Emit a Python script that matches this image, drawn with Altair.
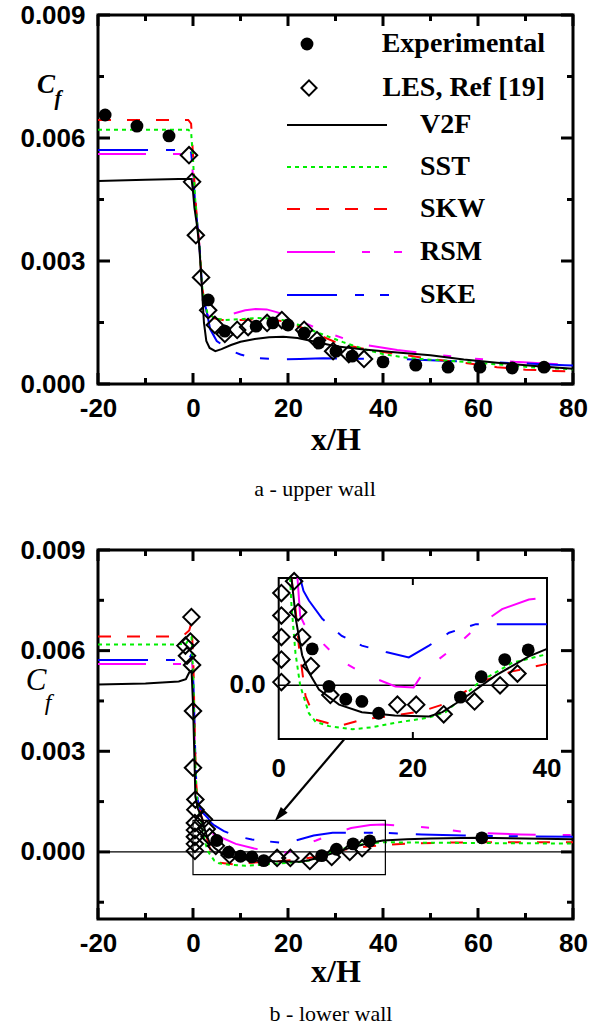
import altair as alt
import pandas as pd

# ---------------- axis ticks / labels ----------------
X_MAJOR = [-20, 0, 20, 40, 60, 80]
X_MINOR = [-10, 10, 30, 50, 70]
Y_MAJOR = [0.0, 0.003, 0.006, 0.009]
Y_MINOR_TOP = [0.0015, 0.0045, 0.0075]
Y_MINOR_BOT = [-0.0015, 0.0015, 0.0045, 0.0075]
INSET_X_TICKS = [0, 20, 40]
INSET_X_LABELS = ["0", "20", "40"]
INSET_MID_TICK = [20]
INSET_Y_LABEL = ["0.0"]

# ---------------- (a) upper wall, Cf in 1e-3 ----------------
A_EXP_X = [-18.5, -11.8, -5.05, 3.2, 6.7, 13.3, 16.8, 20.0, 23.4, 26.5, 30.1, 33.5, 40.0, 46.9, 53.7, 60.4, 67.2, 73.9]
A_EXP_CF = [6.56, 6.29, 6.05, 2.05, 1.29, 1.41, 1.49, 1.44, 1.24, 1.0, 0.8, 0.68, 0.54, 0.46, 0.41, 0.41, 0.39, 0.41]
A_LES_X = [-0.84, -0.2, 0.6, 1.7, 3.2, 4.6, 6.7, 9.3, 11.6, 15.6, 18.7, 23.4, 26.1, 29.5, 32.8, 36.0]
A_LES_CF = [5.58, 4.93, 3.63, 2.6, 1.8, 1.44, 1.22, 1.32, 1.39, 1.49, 1.56, 1.32, 1.07, 0.8, 0.73, 0.61]

A_V2F_X = [-20, -10, -3, -0.3, 0.0, 0.3, 0.8, 1.3, 1.8, 2.3, 2.8, 3.5, 4.7, 6, 8, 10, 13, 16, 19, 22, 25, 30, 36, 43, 50, 57, 64, 72, 80]
A_V2F_CF = [4.95, 4.98, 5.0, 5.0, 4.7, 4.3, 3.9, 3.4, 2.5, 1.5, 1.05, 0.88, 0.8, 0.85, 0.95, 1.03, 1.1, 1.14, 1.15, 1.12, 1.05, 0.92, 0.84, 0.77, 0.7, 0.6, 0.52, 0.44, 0.37]
A_SST_X = [-20, -5, -1, -0.4, 0, 0.4, 0.9, 1.4, 1.9, 2.4, 3.0, 4.5, 6.8, 10, 13.2, 16, 18.9, 22, 25.9, 31.6, 36, 40, 45, 50, 57, 64, 71, 80]
A_SST_CF = [6.2, 6.2, 6.2, 6.15, 5.5, 4.6, 3.9, 3.3, 2.4, 2.0, 1.75, 1.6, 1.56, 1.58, 1.61, 1.6, 1.56, 1.45, 1.27, 1.02, 0.85, 0.73, 0.64, 0.59, 0.54, 0.48, 0.41, 0.36]
A_SKW_X = [-20, -5, -1, -0.4, 0, 0.4, 0.9, 1.4, 1.9, 2.4, 3.0, 4.5, 6.8, 10, 13.2, 16, 19, 22, 26, 30, 35, 40, 45, 50, 57, 64, 70, 76, 80]
A_SKW_CF = [6.44, 6.44, 6.44, 6.35, 5.6, 4.7, 3.9, 3.3, 2.4, 2.0, 1.78, 1.6, 1.55, 1.56, 1.58, 1.57, 1.53, 1.42, 1.22, 1.02, 0.88, 0.78, 0.7, 0.61, 0.52, 0.41, 0.35, 0.32, 0.30]
A_RSM_X = [-20, -5, -1, -0.4, 0, 0.4, 0.9, 1.4, 1.9, 2.4, 3, 4, 5.5, 8.3, 11, 13.2, 15.5, 17.4, 20, 23.1, 26, 29.5, 33, 36.5, 43, 50, 58, 67.7, 80]
A_RSM_CF = [5.61, 5.61, 5.61, 5.55, 5.1, 4.5, 3.9, 3.3, 2.4, 2.0, 1.7, 1.55, 1.55, 1.71, 1.8, 1.83, 1.82, 1.76, 1.66, 1.51, 1.36, 1.2, 1.06, 0.95, 0.83, 0.73, 0.63, 0.54, 0.46]
A_SKE_X = [-20, -5, -1, -0.4, 0, 0.4, 0.9, 1.4, 1.9, 2.4, 3, 3.6, 5, 7.6, 10, 11.9, 14, 16.8, 19, 22.5, 27.4, 33, 38.6, 42.9, 50, 60, 70, 78.3, 80]
A_SKE_CF = [5.71, 5.71, 5.71, 5.65, 5.2, 4.5, 3.9, 3.3, 2.4, 2.0, 1.7, 1.34, 1.05, 0.83, 0.72, 0.66, 0.63, 0.61, 0.6, 0.61, 0.63, 0.62, 0.61, 0.61, 0.58, 0.54, 0.5, 0.46, 0.45]

# ---------------- (b) lower wall, Cf in 1e-3 ----------------
B_EXP_X = [5.0, 7.5, 10.0, 12.4, 14.9, 27.1, 30.2, 33.7, 37.2, 60.8]
B_EXP_CF = [0.34, -0.01, -0.13, -0.15, -0.26, -0.11, 0.08, 0.24, 0.33, 0.42]
B_LES_X = [-1.6, -1.26, -0.55, -0.34, -0.2, 0.0, 0.0, 0.5, 0.5, 0.4, 2.3, 0.4, 2.9, 0.4, 3.5, 0.4, 4.8, 0.4, 7.7, 17.7, 20.5, 24.6, 29.2, 33.0, 35.6]
B_LES_CF = [6.15, 5.85, 6.27, 7.0, 5.57, 4.2, 2.51, 1.56, 1.26, 0.86, 0.97, 0.65, 0.68, 0.45, 0.45, 0.24, 0.18, 0.03, -0.09, -0.18, -0.18, -0.27, -0.15, 0.0, 0.11]

B_V2F_X = [-20, -10, -3, -1.5, -0.8, -0.3, 0.0, 0.3, 0.5, 1.0, 1.9, 2.6, 3.5, 4.5, 6, 9, 12.4, 17.3, 22.4, 24.4, 27.4, 32.3, 37.3, 40, 45, 50, 60, 70, 80]
B_V2F_CF = [4.99, 5.02, 5.08, 5.15, 5.35, 5.4, 4.4, 2.8, 1.65, 1.3, 1.0, 0.6, 0.28, 0.12, -0.04, -0.18, -0.25, -0.28, -0.29, -0.25, -0.13, 0.09, 0.27, 0.34, 0.38, 0.4, 0.42, 0.4, 0.38]
B_SST_X = [-20, -5, -1.5, -0.8, -0.3, 0.1, 0.4, 0.7, 1.0, 1.7, 1.9, 2.5, 3.2, 4.5, 5.5, 7.5, 11, 14, 17.3, 22.4, 24.9, 29.9, 34.8, 40, 45, 55, 65, 80]
B_SST_CF = [6.18, 6.18, 6.2, 6.35, 6.4, 5.0, 3.0, 1.8, 1.35, 1.0, 0.75, 0.3, 0.0, -0.26, -0.34, -0.38, -0.41, -0.39, -0.35, -0.3, -0.25, 0.03, 0.21, 0.29, 0.28, 0.27, 0.26, 0.25]
B_SKW_X = [-20, -5, -2, -0.8, -0.3, 0.1, 0.4, 0.7, 1.0, 1.5, 1.9, 2.5, 3.0, 4.0, 5.5, 9, 12.4, 17.3, 21.4, 25.4, 29.9, 34.8, 40, 45, 55, 65, 80]
B_SKW_CF = [6.42, 6.42, 6.45, 6.6, 6.85, 5.5, 3.3, 2.0, 1.5, 1.2, 1.0, 0.72, 0.37, -0.1, -0.32, -0.38, -0.32, -0.28, -0.24, -0.16, 0.03, 0.13, 0.2, 0.25, 0.28, 0.29, 0.29]
B_RSM_X = [-20, -5, -1.5, -0.8, -0.3, 0.1, 0.4, 0.7, 1.0, 1.5, 2.2, 2.8, 3.2, 3.8, 5, 9, 12.9, 17.4, 20.1, 21.9, 25.9, 29.9, 33.3, 37.3, 40, 50, 58.7, 69, 80]
B_RSM_CF = [5.6, 5.6, 5.6, 5.7, 5.9, 5.0, 3.2, 1.9, 1.5, 1.25, 1.1, 1.0, 0.65, 0.57, 0.49, 0.24, 0.1, -0.01, -0.02, 0.15, 0.34, 0.56, 0.71, 0.8, 0.82, 0.72, 0.57, 0.52, 0.5]
B_SKE_X = [-20, -5, -1.5, -0.8, -0.3, 0.1, 0.4, 0.7, 1.0, 1.5, 2.2, 3.2, 3.7, 4.5, 6.5, 9.4, 12.4, 16, 19.4, 22.4, 25.4, 29.4, 35, 40, 48.2, 57, 65.7, 80]
B_SKE_CF = [5.72, 5.72, 5.72, 5.75, 5.9, 5.0, 3.3, 2.0, 1.55, 1.3, 1.15, 1.0, 0.88, 0.79, 0.62, 0.46, 0.37, 0.31, 0.26, 0.37, 0.49, 0.57, 0.57, 0.57, 0.52, 0.49, 0.47, 0.45]

# zoom box in main panel, inset window, arrow (x/H and Cf in 1e-3)
BOX_X = [0.0, 40.5]
BOX_CF = [-0.68, 0.94]
INSET_X_RANGE = [0.0, 40.0]
INSET_CF_RANGE = [-0.5, 1.0]
ARROW_X = [31.8, 18.2]
ARROW_CF = [3.35, 1.085]

LEGEND_NAMES = ["Experimental", "LES, Ref [19]", "V2F", "SST", "SKW", "RSM", "SKE"]
CAPTIONS = ["a - upper wall", "b - lower wall"]

# ---------------- styles / layout ----------------
W, H = 475, 369
STYLE = {
    "V2F": dict(color="black", dash=None),
    "SST": dict(color="#00ee00", dash=[4, 4]),
    "SKW": dict(color="#ff0000", dash=[13, 16]),
    "RSM": dict(color="#ff00ff", dash=[48, 27, 8, 24, 8, 27]),
    "SKE": dict(color="#0000ff", dash=[50, 18, 9, 16, 9, 18]),
}
ORDER = ["RSM", "SKE", "SKW", "SST", "V2F"]
LABEL_FONT = "Liberation Sans"
SERIF = "Liberation Serif"

X_SCALE = alt.Scale(domain=[-20, 80], nice=False, zero=False)
Y_TOP = alt.Scale(domain=[0.0, 0.009], nice=False, zero=False)
Y_BOT = alt.Scale(domain=[-0.002, 0.009], nice=False, zero=False)

# inset placement inside lower panel (pixels, relative to plot area)
IN_L, IN_R, IN_T, IN_B = 180.7, 449.0, 28.0, 189.0
ix_k = (IN_R - IN_L) / (INSET_X_RANGE[1] - INSET_X_RANGE[0])
IX_SCALE = alt.Scale(domain=[INSET_X_RANGE[0] - IN_L / ix_k, INSET_X_RANGE[1] + (W - IN_R) / ix_k], nice=False, zero=False)
iy_k = (IN_B - IN_T) / ((INSET_CF_RANGE[1] - INSET_CF_RANGE[0]) * 1e-3)
IY_SCALE = alt.Scale(domain=[INSET_CF_RANGE[0] * 1e-3 - (H - IN_B) / iy_k, INSET_CF_RANGE[1] * 1e-3 + IN_T / iy_k], nice=False, zero=False)


def make_x_axis(title_pad):
    return alt.Axis(values=X_MAJOR, title="x/H", ticks=False, domain=False, grid=False,
                    labelExpr="'' + datum.value",
                    labelFont=LABEL_FONT, labelFontWeight="bold", labelFontSize=26, labelColor="black",
                    labelPadding=11, labelFlush=False, labelOverlap=False,
                    titleFont=SERIF, titleFontWeight="bold", titleFontSize=32, titleColor="black",
                    titlePadding=title_pad)


X_AXIS_TOP = make_x_axis(3)
X_AXIS_BOT = make_x_axis(0)
Y_AXIS = alt.Axis(values=Y_MAJOR, format=".3f", title=None, ticks=False, domain=False, grid=False,
                  labelFont=LABEL_FONT, labelFontWeight="bold", labelFontSize=26, labelColor="black",
                  labelPadding=13, labelFlush=False, labelOverlap=False)


def xa(ys):
    return X_AXIS_BOT if ys is Y_BOT else X_AXIS_TOP


def xy(xs, cfs):
    return pd.DataFrame({"x": xs, "cf": [c * 1e-3 for c in cfs]})


def enc(ys, inset=False):
    if inset:
        return dict(x=alt.X("x:Q", scale=IX_SCALE, axis=None), y=alt.Y("cf:Q", scale=IY_SCALE, axis=None))
    return dict(x=alt.X("x:Q", scale=X_SCALE, axis=xa(ys)), y=alt.Y("cf:Q", scale=ys, axis=Y_AXIS))


def series_line(df, name, ys, inset=False):
    st = STYLE[name]
    kw = dict(color=st["color"], strokeWidth=2, clip=True)
    if st["dash"]:
        kw["strokeDash"] = st["dash"]
    return alt.Chart(df).mark_line(**kw).encode(**enc(ys, inset))


def exp_pts(df, ys, inset=False):
    return alt.Chart(df).mark_circle(size=165, color="black", opacity=1).encode(**enc(ys, inset))


def les_pts(df, ys, inset=False):
    return alt.Chart(df).mark_point(shape="diamond", size=270, filled=False, color="black",
                                    strokeWidth=2, opacity=1).encode(**enc(ys, inset))


def tick_layers(ys, y_minor):
    out = []
    xe = alt.X("x:Q", scale=X_SCALE, axis=xa(ys))
    ye = alt.Y("cf:Q", scale=ys, axis=Y_AXIS)
    rk = dict(color="black", strokeWidth=3)
    for vals, ln in ((X_MAJOR, 11), (X_MINOR, 6)):
        d = pd.DataFrame({"x": vals})
        out.append(alt.Chart(d).mark_rule(**rk).encode(x=xe, y=alt.value(H), y2=alt.value(H - ln)))
        out.append(alt.Chart(d).mark_rule(**rk).encode(x=xe, y=alt.value(0), y2=alt.value(ln)))
    for vals, ln in ((Y_MAJOR, 12), (y_minor, 6)):
        d = pd.DataFrame({"cf": vals})
        out.append(alt.Chart(d).mark_rule(**rk).encode(y=ye, x=alt.value(0), x2=alt.value(ln)))
        out.append(alt.Chart(d).mark_rule(**rk).encode(y=ye, x=alt.value(W), x2=alt.value(W - ln)))
    return out


def text_at(s, x, y, **kw):
    base = dict(color="black", baseline="middle")
    base.update(kw)
    return alt.Chart(pd.DataFrame({"t": [s]})).mark_text(**base).encode(
        x=alt.value(x), y=alt.value(y), text="t:N")


def cf_label(cx, cy, fx, fy, csize, fsize, weight):
    return [
        text_at("C", cx, cy, font=SERIF, fontSize=csize, fontStyle="italic", fontWeight=weight),
        text_at("f", fx, fy, font=SERIF, fontSize=fsize, fontStyle="italic", fontWeight=weight),
    ]


# ---------------- (a) upper wall ----------------
A_SERIES = {"V2F": (A_V2F_X, A_V2F_CF), "SST": (A_SST_X, A_SST_CF), "SKW": (A_SKW_X, A_SKW_CF),
            "RSM": (A_RSM_X, A_RSM_CF), "SKE": (A_SKE_X, A_SKE_CF)}
top_layers = [series_line(xy(*A_SERIES[n]), n, Y_TOP) for n in ORDER]
top_layers += [exp_pts(xy(A_EXP_X, A_EXP_CF), Y_TOP), les_pts(xy(A_LES_X, A_LES_CF), Y_TOP)]
top_layers += tick_layers(Y_TOP, Y_MINOR_TOP)

# legend (drawn inside the upper panel)
LEG_Y = [29, 73, 110, 152, 194, 237, 280]
LEG_LINE_END = {"V2F": 289, "SST": 289, "SKW": 291, "RSM": 304, "SKE": 291}
leg_font = dict(font=SERIF, fontSize=28, fontWeight="bold")
top_layers.append(alt.Chart(pd.DataFrame({"t": [LEGEND_NAMES[0]]})).mark_circle(size=165, color="black", opacity=1)
                  .encode(x=alt.value(209), y=alt.value(LEG_Y[0])))
top_layers.append(alt.Chart(pd.DataFrame({"t": [LEGEND_NAMES[1]]})).mark_point(shape="diamond", size=230, filled=False,
                  color="black", strokeWidth=2, opacity=1).encode(x=alt.value(211), y=alt.value(LEG_Y[1])))
top_layers.append(text_at(LEGEND_NAMES[0], 447, LEG_Y[0], align="right", **leg_font))
top_layers.append(text_at(LEGEND_NAMES[1], 447, LEG_Y[1], align="right", **leg_font))
for name, yy in zip(LEGEND_NAMES[2:], LEG_Y[2:]):
    st = STYLE[name]
    kw = dict(color=st["color"], strokeWidth=2.2)
    if st["dash"]:
        kw["strokeDash"] = st["dash"]
    top_layers.append(alt.Chart(pd.DataFrame({"t": [name]})).mark_rule(**kw)
                      .encode(x=alt.value(189), x2=alt.value(LEG_LINE_END[name]), y=alt.value(yy)))
    top_layers.append(text_at(name, 322, yy, align="left", **leg_font))

top_layers += cf_label(-52, 70, -40, 84, 27, 21, "bold")
top_layers.append(text_at(CAPTIONS[0], 217, 474, font=SERIF, fontSize=22, align="center"))

top = alt.layer(*top_layers).properties(width=W, height=H)

# ---------------- (b) lower wall ----------------
B_SERIES = {"V2F": (B_V2F_X, B_V2F_CF), "SST": (B_SST_X, B_SST_CF), "SKW": (B_SKW_X, B_SKW_CF),
            "RSM": (B_RSM_X, B_RSM_CF), "SKE": (B_SKE_X, B_SKE_CF)}
bm = []
bm.append(alt.Chart(pd.DataFrame({"cf": [0.0]})).mark_rule(color="black", strokeWidth=1.2)
          .encode(y=alt.Y("cf:Q", scale=Y_BOT, axis=Y_AXIS)))
bm += [series_line(xy(*B_SERIES[n]), n, Y_BOT) for n in ORDER]
bm += [exp_pts(xy(B_EXP_X, B_EXP_CF), Y_BOT), les_pts(xy(B_LES_X, B_LES_CF), Y_BOT)]
box = pd.DataFrame({"x": [BOX_X[0]], "x2": [BOX_X[1]], "cf": [BOX_CF[0] * 1e-3], "cf2": [BOX_CF[1] * 1e-3]})
bm.append(alt.Chart(box).mark_rect(fillOpacity=0, stroke="black", strokeWidth=1.2).encode(
    x=alt.X("x:Q", scale=X_SCALE, axis=X_AXIS_BOT), x2="x2:Q",
    y=alt.Y("cf:Q", scale=Y_BOT, axis=Y_AXIS), y2="cf2:Q"))
arrow = pd.DataFrame({"x": [ARROW_X[0]], "x2": [ARROW_X[1]], "cf": [ARROW_CF[0] * 1e-3], "cf2": [ARROW_CF[1] * 1e-3]})
bm.append(alt.Chart(arrow).mark_rule(color="black", strokeWidth=2.2).encode(
    x=alt.X("x:Q", scale=X_SCALE, axis=X_AXIS_BOT), x2="x2:Q",
    y=alt.Y("cf:Q", scale=Y_BOT, axis=Y_AXIS), y2="cf2:Q"))
bm.append(alt.Chart(xy(ARROW_X[1:], ARROW_CF[1:])).mark_point(
    shape="M0,-1L0.6,1L-0.6,1Z", size=220, filled=True, color="black", opacity=1, angle=220).encode(**enc(Y_BOT)))
bm += tick_layers(Y_BOT, Y_MINOR_BOT)
bm += cf_label(-62, 131, -50, 153, 31, 24, "normal")
bm.append(text_at(CAPTIONS[1], 233, 464, font=SERIF, fontSize=22, align="center"))
main_group = alt.layer(*bm)


def in_window(df):
    hi = INSET_CF_RANGE[1] * 1e-3 * 1.0001
    lo = INSET_CF_RANGE[0] * 1e-3
    m = (df.x >= INSET_X_RANGE[0] - 0.5) & (df.x <= INSET_X_RANGE[1]) & (df.cf <= hi) & (df.cf >= lo)
    return df[m]


bi = []
ibox = pd.DataFrame({"x": [INSET_X_RANGE[0]], "x2": [INSET_X_RANGE[1]],
                     "cf": [INSET_CF_RANGE[0] * 1e-3], "cf2": [INSET_CF_RANGE[1] * 1e-3]})
bi.append(alt.Chart(ibox).mark_rect(fill="white", stroke="black", strokeWidth=2).encode(
    x=alt.X("x:Q", scale=IX_SCALE, axis=None), x2="x2:Q",
    y=alt.Y("cf:Q", scale=IY_SCALE, axis=None), y2="cf2:Q"))
izero = pd.DataFrame({"x": [INSET_X_RANGE[0]], "x2": [INSET_X_RANGE[1]], "cf": [0.0]})
bi.append(alt.Chart(izero).mark_rule(color="black", strokeWidth=1.5).encode(
    x=alt.X("x:Q", scale=IX_SCALE, axis=None), x2="x2:Q", y=alt.Y("cf:Q", scale=IY_SCALE, axis=None)))
bi += [series_line(in_window(xy(*B_SERIES[n])), n, None, inset=True) for n in ORDER]
bi.append(exp_pts(in_window(xy(B_EXP_X, B_EXP_CF)), None, inset=True))
bi.append(les_pts(in_window(xy(B_LES_X, B_LES_CF)), None, inset=True))
mid = pd.DataFrame({"x": INSET_MID_TICK})
bi.append(alt.Chart(mid).mark_rule(color="black", strokeWidth=2).encode(
    x=alt.X("x:Q", scale=IX_SCALE, axis=None), y=alt.value(IN_T), y2=alt.value(IN_T + 7)))
bi.append(alt.Chart(mid).mark_rule(color="black", strokeWidth=2).encode(
    x=alt.X("x:Q", scale=IX_SCALE, axis=None), y=alt.value(IN_B), y2=alt.value(IN_B - 7)))
ilab = pd.DataFrame({"x": INSET_X_TICKS, "t": INSET_X_LABELS})
bi.append(alt.Chart(ilab).mark_text(font=LABEL_FONT, fontSize=26, fontWeight="bold", color="black",
                                    baseline="middle", align="center").encode(
    x=alt.X("x:Q", scale=IX_SCALE, axis=None), y=alt.value(IN_B + 30), text="t:N"))
bi.append(text_at(INSET_Y_LABEL[0], IN_L - 13, 135, font=LABEL_FONT, fontSize=26, fontWeight="bold", align="right"))
inset_group = alt.layer(*bi)

bottom = alt.layer(main_group, inset_group).resolve_scale(x="independent", y="independent").properties(width=W, height=H)

chart = (alt.vconcat(top, bottom, spacing=33)
         .resolve_scale(x="independent", y="independent")
         .configure_view(stroke="black", strokeWidth=3)
         .properties(padding={"left": 18, "top": 0, "right": 5, "bottom": 0}, background="white"))

chart.save("out.html", embed_options={"renderer": "svg", "actions": False})
